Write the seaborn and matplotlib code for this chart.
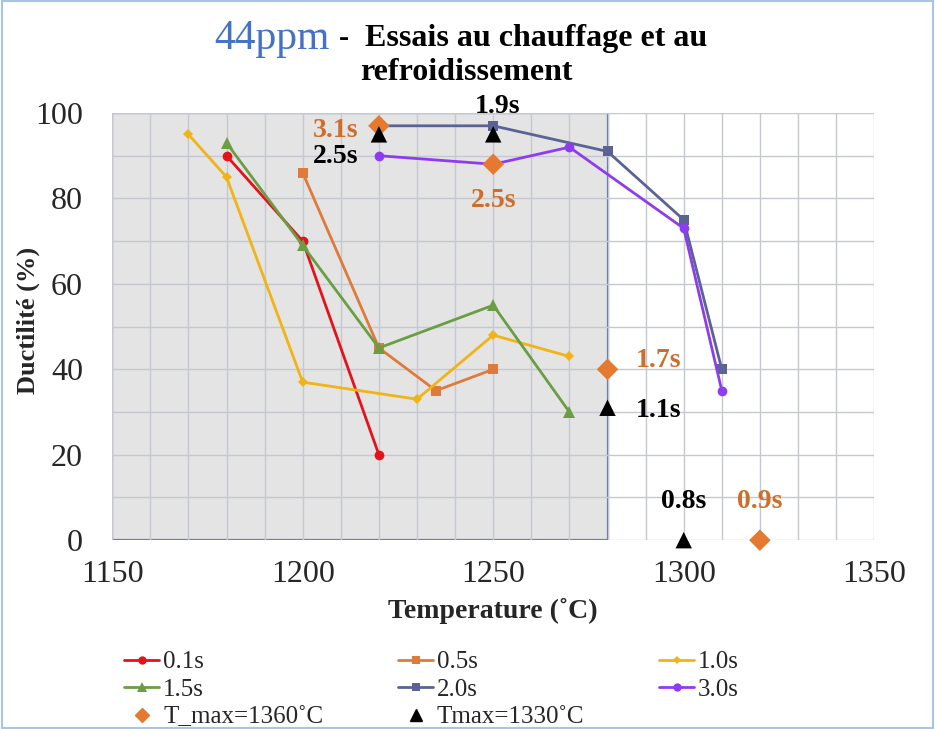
import numpy as np
import pandas as pd
import seaborn as sns
import matplotlib.pyplot as plt
from matplotlib.patches import Rectangle
from matplotlib.lines import Line2D

# series data (temperature in C, ductility in %)
t_01 = [1180, 1200, 1220]
d_01 = [90, 70, 20]
t_05 = [1200, 1220, 1235, 1250]
d_05 = [86, 45, 35, 40]
t_10 = [1170, 1180, 1200, 1230, 1250, 1270]
d_10 = [95, 85, 37, 33, 48, 43]
t_15 = [1180, 1200, 1220, 1250, 1270]
d_15 = [93, 69, 45, 55, 30]
t_20 = [1220, 1250, 1280, 1300, 1310]
d_20 = [97, 97, 91, 75, 40]
t_30 = [1220, 1250, 1270, 1300, 1310]
d_30 = [90, 88, 92, 73, 35]

# isolated points
t_max1360 = [1220, 1250, 1280, 1320]
d_max1360 = [97, 88, 40, 0]
lab_max1360 = ["3.1s", "2.5s", "1.7s", "0.9s"]
t_max1330 = [1220, 1250, 1280, 1300]
d_max1330 = [95, 95, 31, 0]
lab_max1330 = ["2.5s", "1.9s", "1.1s", "0.8s"]

sns.set_theme(style="white")
plt.rcParams['font.family'] = ['Liberation Serif', 'DejaVu Serif']

fig = plt.figure(figsize=(9.35, 7.29), dpi=100)
ax = fig.add_axes([0.12, 0.259, 0.815, 0.586])

# shaded zone
ax.add_patch(Rectangle((1150, 0), 130, 100, facecolor="#e4e4e4",
                       edgecolor="#5670a8", linewidth=1.6, zorder=0))

ax.set_xlim(1150, 1350)
ax.set_ylim(0, 100)
ax.set_xticks(np.arange(1150, 1351, 50))
ax.set_yticks(np.arange(0, 101, 20))
ax.set_xticks(np.arange(1150, 1351, 10), minor=True)
ax.set_yticks(np.arange(0, 101, 10), minor=True)
ax.grid(True, which="both", color="#c5c8d0", linewidth=1.0, zorder=1)
ax.set_axisbelow(False)
for s in ax.spines.values():
    s.set_visible(False)
ax.tick_params(axis="both", which="both", length=0, labelsize=23)
ax.tick_params(axis="x", pad=14)
ax.tick_params(axis="y", pad=21)

series = [
    ("0.1s", t_01, d_01, "#e3121b", "o", 7),
    ("0.5s", t_05, d_05, "#e07a3a", "s", 7),
    ("1.0s", t_10, d_10, "#f0b416", "D", 5),
    ("1.5s", t_15, d_15, "#6a9e44", "^", 8),
    ("2.0s", t_20, d_20, "#5b6396", "s", 7),
    ("3.0s", t_30, d_30, "#8e3cef", "o", 7),
]
handles = {}
for name, t, d, c, m, ms in series:
    df = pd.DataFrame({"temp": t, "duct": d})
    sns.lineplot(data=df, x="temp", y="duct", ax=ax, color=c, marker=m,
                 markersize=ms, markeredgewidth=0, linewidth=2, zorder=3,
                 sort=False)
    handles[name] = Line2D([], [], color=c, marker=m, markersize=ms - 1,
                           markeredgewidth=0, linewidth=2)

sns.scatterplot(x=t_max1360, y=d_max1360, ax=ax, marker="D", s=120,
                color="#e5792f", edgecolor="none", zorder=4, clip_on=False)
sns.scatterplot(x=t_max1330, y=d_max1330, ax=ax, marker="^", s=140,
                color="black", edgecolor="none", zorder=5, clip_on=False)
handles["T_max=1360˚C"] = Line2D([], [], color="#e5792f", marker="D",
                                 markersize=7, linestyle="none")
handles["Tmax=1330˚C"] = Line2D([], [], color="black", marker="^",
                                markersize=8, linestyle="none")

orange_txt = "#cf6d2a"
tf = dict(fontsize=20, fontweight="bold", zorder=6)
ax.text(1214.5, 95.8, lab_max1360[0], color=orange_txt, ha="right", va="center", **tf)
ax.text(1250, 79.6, lab_max1360[1], color=orange_txt, ha="center", va="center", **tf)
ax.text(1287.5, 42, lab_max1360[2], color=orange_txt, ha="left", va="center", **tf)
ax.text(1320, 9, lab_max1360[3], color=orange_txt, ha="center", va="center", **tf)
ax.text(1214.5, 89.7, lab_max1330[0], color="black", ha="right", va="center", **tf)
ax.text(1251, 101.5, lab_max1330[1], color="black", ha="center", va="center", **tf)
ax.text(1287.5, 30.4, lab_max1330[2], color="black", ha="left", va="center", **tf)
ax.text(1300, 9, lab_max1330[3], color="black", ha="center", va="center", **tf)

ax.set_xlabel("Temperature (˚C)", fontsize=20, fontweight="bold")
ax.set_ylabel("Ductilité (%)", fontsize=19, fontweight="bold")
ax.xaxis.set_label_coords(0.5, -0.136)
ax.yaxis.set_label_coords(-0.095, 0.515)

# title
fig.text(0.353, 0.947, "44ppm", color="#4472c4", fontsize=30, ha="right", va="center")
fig.text(0.362, 0.947, "-", color="black", fontsize=22, fontweight="bold",
         ha="left", va="center")
fig.text(0.390, 0.947, "Essais au chauffage et au", color="black",
         fontsize=23, fontweight="bold", ha="left", va="center")
fig.text(0.499, 0.901, "refroidissement", color="black", fontsize=23,
         fontweight="bold", ha="center", va="center")

order = ["0.1s", "1.5s", "T_max=1360˚C", "0.5s", "2.0s", "Tmax=1330˚C", "1.0s", "3.0s"]
fig.legend([handles[k] for k in order], order, ncol=3, loc="upper left",
           bbox_to_anchor=(0.133, 0.107), frameon=False, fontsize=18,
           handlelength=1.4, handletextpad=0.15, labelspacing=0.2,
           columnspacing=3.0, borderaxespad=0, borderpad=0)

fig.add_artist(Rectangle((0.002, 0.002), 0.996, 0.996, transform=fig.transFigure,
                         fill=False, edgecolor="#a8c4e6", linewidth=1.5))

fig.savefig("out.png", dpi=100)
